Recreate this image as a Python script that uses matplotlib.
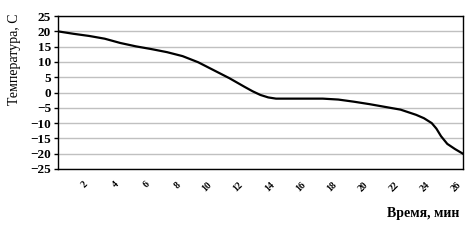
#!/usr/bin/env python3
"""Temperature vs time line chart (Excel-style)."""

import matplotlib as mpl
import matplotlib.pyplot as plt

mpl.rcParams["font.family"] = ["Liberation Serif", "DejaVu Serif"]

# data
time_min = [0, 1, 2, 3, 4, 5, 6, 7, 8, 9, 10, 11, 12, 12.5, 13, 13.5, 14, 15,
            16, 17, 18, 19, 20, 21, 22, 23, 23.5, 24, 24.3, 24.6, 25, 25.5, 26]
temp_c = [20.0, 19.2, 18.5, 17.6, 16.2, 15.1, 14.2, 13.2, 11.9, 9.9, 7.3,
          4.7, 1.8, 0.4, -0.8, -1.6, -2.0, -2.0, -2.0, -2.0, -2.3, -3.0,
          -3.8, -4.7, -5.6, -7.3, -8.4, -10.0, -11.8, -14.3, -16.8, -18.5, -20.0]
x_ticks = [2, 4, 6, 8, 10, 12, 14, 16, 18, 20, 22, 24, 26]
y_ticks = [-25, -20, -15, -10, -5, 0, 5, 10, 15, 20, 25]

fig = plt.figure(figsize=(4.68, 2.40), dpi=100)
ax = fig.add_axes([0.124, 0.296, 0.865, 0.637])

ax.plot(time_min, temp_c, color="black", lw=1.6, solid_joinstyle="round", zorder=3)

ax.set_xlim(0, 26)
ax.set_ylim(-25, 25)
ax.set_yticks(y_ticks)
ax.set_xticks(x_ticks)
ax.yaxis.grid(True, color="#c0c0c0", lw=1.0)
ax.set_axisbelow(True)

for s in ax.spines.values():
    s.set_color("black")
    s.set_linewidth(1.0)

ax.tick_params(axis="y", direction="out", length=3, width=1, pad=2, labelsize=9.5)
ax.tick_params(axis="x", length=0, pad=8, labelsize=7)
for lbl in ax.get_yticklabels():
    lbl.set_fontweight("bold")
for lbl in ax.get_xticklabels():
    lbl.set_fontweight("bold")
    lbl.set_rotation(45)
    lbl.set_ha("right")
    lbl.set_va("top")

fig.text(0.030, 0.755, "Температура, С", rotation=90, ha="center", va="center", fontsize=10)
fig.text(0.905, 0.112, "Время, мин", ha="center", va="center", fontsize=10, fontweight="bold")

fig.savefig("out.png", dpi=100, facecolor="white")
